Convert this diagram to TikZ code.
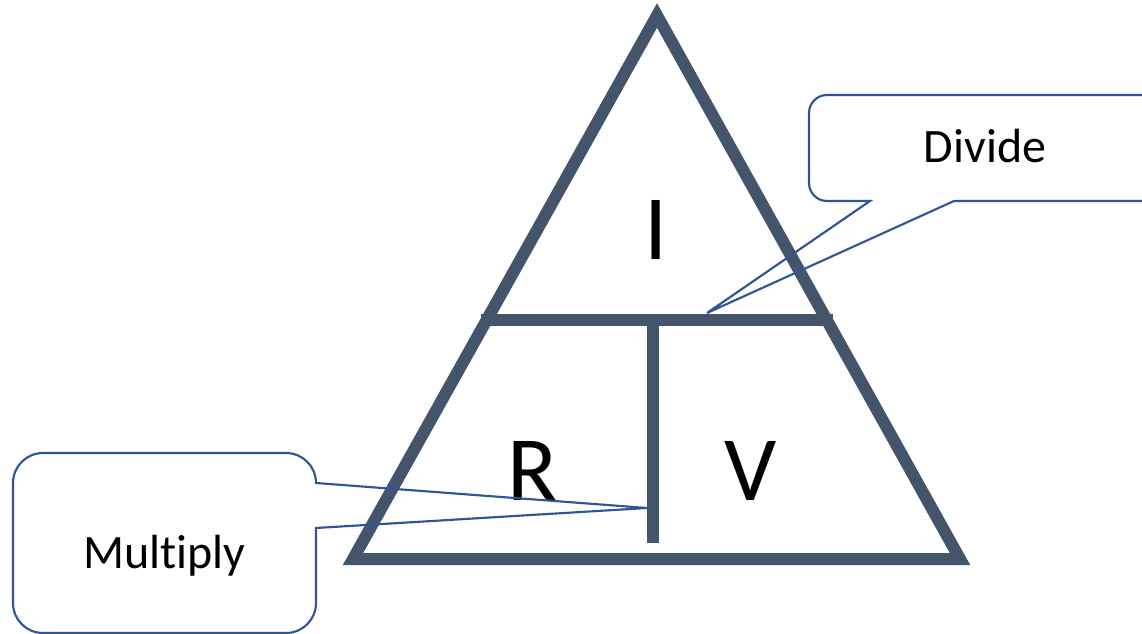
\documentclass[tikz,border=0pt]{standalone}
\usepackage{fontspec}
\setmainfont[Ligatures={NoCommon}]{Carlito}
\definecolor{tricol}{HTML}{44546A}
\definecolor{calcol}{HTML}{2F5597}
\begin{document}
\begin{tikzpicture}[x=0.75pt,y=-0.75pt,
  tri/.style={draw=tricol,line width=9pt,line join=miter},
  bar/.style={draw=tricol,line width=9pt,line cap=butt},
  callout/.style={draw=calcol,line width=1.6pt,line join=miter},
  big/.style={anchor=base,inner sep=0pt,font=\fontsize{69}{80}\selectfont},
  ctext/.style={anchor=base,inner sep=0pt,font=\fontsize{36}{43}\selectfont}]
\clip (0,0) rectangle (1142,634);
\fill[white] (0,0) rectangle (1142,634);
% triangle
\coordinate (apex) at (657,15.5);
\coordinate (bl) at (353,559);
\coordinate (br) at (960,559);
\draw[tri] (apex) -- (bl) -- (br) -- cycle;
\coordinate (hl) at (481,320);
\coordinate (hr) at (833,320);
\coordinate (vt) at (653,320);
\coordinate (vb) at (653,543);
\draw[bar] (hl) -- (hr);
\draw[bar] (vt) -- (vb);
% letters
\node[big] (I) at (656.5,260) {I};
\node[big] (R) at (532.5,500) {R};
\node[big] (V) at (751,500) {V};
% callout tips
\coordinate (dtip) at (707,313);
\coordinate (mtip) at (647,508);
% Divide callout
\draw[callout] (827,95) -- (1160,95) -- (1160,201) -- (954,201) -- (dtip) -- (870,201) -- (827,201)
  .. controls (817,201) and (809,193) .. (809,183) -- (809,113)
  .. controls (809,103) and (817,95) .. (827,95) -- cycle;
\node[ctext] (divide) at (985,163) {Divide};
% Multiply callout
\draw[callout] (43,453) -- (286,453) .. controls (302.6,453) and (316,466.4) .. (316,483)
  -- (mtip) -- (316,528) -- (316,603)
  .. controls (316,619.6) and (302.6,633) .. (286,633) -- (43,633)
  .. controls (26.4,633) and (13,619.6) .. (13,603) -- (13,483)
  .. controls (13,466.4) and (26.4,453) .. (43,453) -- cycle;
\node[ctext] (multiply) at (164.5,568) {Multiply};
\end{tikzpicture}
\end{document}
